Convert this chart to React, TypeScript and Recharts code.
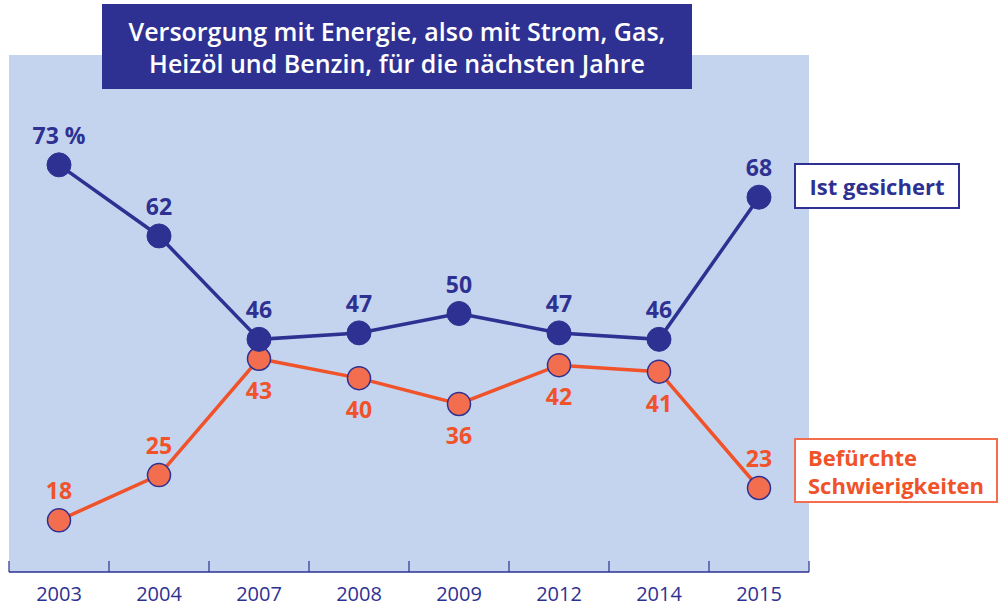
import React from "react";
import { LineChart, Line, XAxis, YAxis, CartesianGrid, LabelList } from "recharts";

const years = ["2003", "2004", "2007", "2008", "2009", "2012", "2014", "2015"];
const gesichert = [73, 62, 46, 47, 50, 47, 46, 68];
const befuerchtet = [18, 25, 43, 40, 36, 42, 41, 23];

const data = years.map((y, i) => ({ year: y, gesichert: gesichert[i], befuerchtet: befuerchtet[i] }));

const BLUE = "#2E3192";
const ORANGE = "#F26E4E";
const ORANGE_TEXT = "#F0522A";
const PANEL = "#C5D4EE";
const FONT = "'Open Sans', sans-serif";

const orangeAbove = new Set([0, 1, 7]);

const BlueLabel = (props: any) => {
  const { x, y, value, index } = props;
  return (
    <text x={x} y={y - 30} textAnchor="middle" dominantBaseline="central" fill={BLUE}
      fontFamily={FONT} fontWeight={700} fontSize={23}>
      {index === 0 ? `${value} %` : value}
    </text>
  );
};

const OrangeLabel = (props: any) => {
  const { x, y, value, index } = props;
  const dy = orangeAbove.has(index) ? -30 : 31;
  return (
    <text x={x} y={y + dy} textAnchor="middle" dominantBaseline="central" fill={ORANGE_TEXT}
      fontFamily={FONT} fontWeight={700} fontSize={23}>
      {value}
    </text>
  );
};

const YearTick = (props: any) => {
  const { x, payload, index, visibleTicksCount, axisY } = props;
  const half = 50;
  return (
    <g>
      <line x1={x - half} x2={x - half} y1={axisY - 11} y2={axisY} stroke={BLUE} strokeWidth={1.2} />
      {index === visibleTicksCount - 1 && (
        <line x1={x + half} x2={x + half} y1={axisY - 11} y2={axisY} stroke={BLUE} strokeWidth={1.2} />
      )}
      <text x={x} y={axisY + 21} textAnchor="middle" dominantBaseline="central" fill={BLUE}
        fontFamily={FONT} fontSize={20}>
        {payload.value}
      </text>
    </g>
  );
};

export default function App() {
  const chartH = 607;
  const axisH = 35;
  const axisY = chartH - axisH;
  return (
    <div style={{ position: "absolute", left: 0, top: 0, width: 999, height: 607, background: "#fff" }}>
      <LineChart width={999} height={chartH} data={data} margin={{ top: 55, left: 9, right: 190, bottom: 0 }}>
        <CartesianGrid fill={PANEL} horizontal={false} vertical={false} stroke="none" />
        <XAxis dataKey="year" height={axisH} axisLine={{ stroke: BLUE, strokeWidth: 1.5 }} tickLine={false}
          tick={<YearTick axisY={axisY} />} interval={0} padding={{ left: 50, right: 50 }} />
        <YAxis hide domain={[10, 90]} />
        <Line type="linear" dataKey="befuerchtet" stroke={ORANGE_TEXT} strokeWidth={3.5} isAnimationActive={false}
          dot={{ r: 11.5, fill: ORANGE, stroke: BLUE, strokeWidth: 1.5 }} activeDot={false}>
          <LabelList dataKey="befuerchtet" content={<OrangeLabel />} />
        </Line>
        <Line type="linear" dataKey="gesichert" stroke={BLUE} strokeWidth={3.5} isAnimationActive={false}
          dot={{ r: 12, fill: BLUE, stroke: BLUE, strokeWidth: 1 }} activeDot={false}>
          <LabelList dataKey="gesichert" content={<BlueLabel />} />
        </Line>
      </LineChart>
      <div style={{ position: "absolute", left: 102, top: 4, width: 590, height: 85, background: BLUE, color: "#fff",
        fontFamily: FONT, fontWeight: 600, fontSize: 25, lineHeight: "32px", textAlign: "center",
        display: "flex", alignItems: "center", justifyContent: "center", flexDirection: "column" }}>
        <div>Versorgung mit Energie, also mit Strom, Gas,</div>
        <div>Heizöl und Benzin, für die nächsten Jahre</div>
      </div>
      <div style={{ position: "absolute", left: 794, top: 163, width: 166, height: 46, boxSizing: "border-box",
        border: `2px solid ${BLUE}`, background: "#fff", color: BLUE, fontFamily: FONT, fontWeight: 700, fontSize: 22,
        display: "flex", alignItems: "center", justifyContent: "center" }}>
        Ist gesichert
      </div>
      <div style={{ position: "absolute", left: 794, top: 438, width: 204, height: 65, boxSizing: "border-box",
        border: `2px solid ${ORANGE}`, background: "#fff", color: ORANGE_TEXT, fontFamily: FONT, fontWeight: 700, fontSize: 22,
        lineHeight: "28px", paddingLeft: 12, display: "flex", flexDirection: "column", justifyContent: "center" }}>
        <div>Befürchte</div>
        <div>Schwierigkeiten</div>
      </div>
    </div>
  );
}
